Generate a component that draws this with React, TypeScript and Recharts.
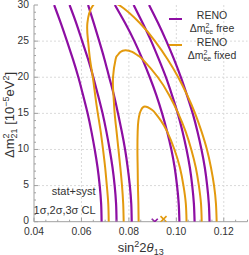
import React from 'react';
import { ScatterChart, Scatter, XAxis, YAxis, CartesianGrid, Legend } from 'recharts';

const PURPLE = '#8d0ea3';
const ORANGE = '#e39a0e';
const FRAME = '#a0a0a0';
const INK = '#333';

const xTicks = [0.04, 0.06, 0.08, 0.1, 0.12];
const xMinorTicks = [0.045, 0.05, 0.055, 0.065, 0.07, 0.075, 0.085, 0.09, 0.095, 0.105, 0.11, 0.115, 0.125, 0.13];
const yTicks = [0, 5, 10, 15, 20, 25, 30];
const yMinorTicks = [1, 2, 3, 4, 6, 7, 8, 9, 11, 12, 13, 14, 16, 17, 18, 19, 21, 22, 23, 24, 26, 27, 28, 29];
const xGrid = [0.06, 0.08, 0.1, 0.12];
const yGrid = [5, 10, 15, 20, 25];

const dm21 = [0, 2.5, 5, 7.5, 10, 12.5, 15, 17.5, 20, 22.5, 25, 27.5, 30];

// RENO, Δm²ee free : sin²2θ13 of each contour branch at dm21
const free1Left = [0.0812, 0.081, 0.0804, 0.0795, 0.0784, 0.077, 0.0754, 0.0737, 0.0717, 0.0697, 0.0675, 0.0652, 0.0628];
const free1Right = [0.1013, 0.101, 0.1003, 0.0993, 0.0979, 0.0961, 0.094, 0.0916, 0.0888, 0.0857, 0.0823, 0.0784, 0.0741];
const free2Left = [0.0748, 0.0746, 0.074, 0.0731, 0.0719, 0.0705, 0.0689, 0.067, 0.065, 0.0628, 0.0603, 0.0578, 0.055];
const free2Right = [0.1077, 0.1074, 0.1067, 0.1057, 0.1043, 0.1026, 0.1006, 0.0982, 0.0956, 0.0926, 0.0894, 0.0858, 0.082];
const free3Left = [0.0685, 0.0683, 0.0677, 0.0668, 0.0656, 0.0642, 0.0626, 0.0607, 0.0587, 0.0564, 0.0539, 0.0513, 0.0485];
const free3Right = [0.114, 0.1137, 0.113, 0.112, 0.1106, 0.1089, 0.1069, 0.1045, 0.1019, 0.099, 0.0958, 0.0923, 0.0885];

// RENO, Δm²ee fixed : 3σ branches at dm21, closing just above the frame
const fixed3Left = [0.0715, 0.0713, 0.0707, 0.07, 0.0691, 0.0681, 0.0669, 0.0658, 0.0648, 0.0636, 0.0628, 0.0625, 0.065];
const fixed3Right = [0.117, 0.1167, 0.1159, 0.1146, 0.1129, 0.1106, 0.1079, 0.1046, 0.1008, 0.0963, 0.091, 0.0846, 0.0758];
const fixed3CapDm = [30.6];
const fixed3CapSin = [0.0697];

// 2σ and 1σ are closed, traced left branch up and right branch down
const fixed2Dm = [0, 2.5, 5, 7.5, 10, 12.5, 15, 17.5, 20, 22.5, 23, 23.5, 23.74, 23.5, 23, 22.5, 20, 17.5, 15, 12.5, 10, 7.5, 5, 2.5, 0];
const fixed2Sin = [0.0778, 0.0776, 0.0771, 0.0764, 0.0756, 0.0748, 0.074, 0.0735, 0.0733, 0.0744, 0.0751, 0.0764, 0.0786, 0.0814, 0.0839, 0.0857, 0.0922, 0.097, 0.1008, 0.1039, 0.1063, 0.1082, 0.1095, 0.1104, 0.1107];
const fixed1Dm = [0, 2.5, 5, 7.5, 10, 12.5, 14, 15, 15.5, 15.95, 15.5, 15, 14, 12.5, 10, 7.5, 5, 2.5, 0];
const fixed1Sin = [0.0841, 0.084, 0.0838, 0.0837, 0.0836, 0.0837, 0.084, 0.0846, 0.0852, 0.0867, 0.0897, 0.0912, 0.0935, 0.0961, 0.0992, 0.1015, 0.103, 0.104, 0.1043];

// best fit points
const bestFreeSin = [0.0909];
const bestFreeDm = [0];
const bestFixedSin = [0.0946];
const bestFixedDm = [0.35];

const legendLabels = ['free', 'fixed'];
const legendColors = [PURPLE, ORANGE];

const pts = (xs: number[], ys: number[]) => xs.map((x, i) => ({ x, y: ys[i] }));
const rev = (a: number[]) => [...a].reverse();

const freeBranches = [free3Left, free3Right, free2Left, free2Right, free1Left, free1Right];
const fixedContours = [
  pts([...fixed3Left, ...fixed3CapSin, ...rev(fixed3Right)], [...dm21, ...fixed3CapDm, ...rev(dm21)]),
  pts(fixed2Sin, fixed2Dm),
  pts(fixed1Sin, fixed1Dm),
];

const isMajor = (v: number, majors: number[]) => majors.some((t) => Math.abs(t - v) < 1e-9);
const noDot = () => <g />;

const BottomTick = (p: any) => {
  const major = isMajor(p.payload.value, xTicks);
  return (
    <g>
      <line x1={p.x} x2={p.x} y1={p.y} y2={p.y - (major ? 4 : 2)} stroke={FRAME} />
      {major && (
        <text x={p.x} y={p.y + 13} textAnchor="middle" fontSize={10.3} fill={INK}>
          {p.payload.value.toFixed(2)}
        </text>
      )}
    </g>
  );
};

const TopTick = (p: any) => {
  const major = isMajor(p.payload.value, xTicks);
  return <line x1={p.x} x2={p.x} y1={p.y} y2={p.y + (major ? 4 : 2)} stroke={FRAME} />;
};

const LeftTick = (p: any) => {
  const major = isMajor(p.payload.value, yTicks);
  return (
    <g>
      <line x1={p.x} x2={p.x + (major ? 4 : 2)} y1={p.y} y2={p.y} stroke={FRAME} />
      {major && (
        <text x={p.x - 5} y={p.y + 2.6} textAnchor="end" fontSize={10.3} fill={INK}>
          {p.payload.value}
        </text>
      )}
    </g>
  );
};

const RightTick = (p: any) => {
  const major = isMajor(p.payload.value, yTicks);
  return <line x1={p.x} x2={p.x - (major ? 4 : 2)} y1={p.y} y2={p.y} stroke={FRAME} />;
};

const Cross = (p: any) => {
  const s = 3;
  return (
    <g stroke={p.fill} strokeWidth={1.6}>
      <line x1={p.cx - s} y1={p.cy - s} x2={p.cx + s} y2={p.cy + s} />
      <line x1={p.cx - s} y1={p.cy + s} x2={p.cx + s} y2={p.cy - s} />
    </g>
  );
};

const script = { fontSize: 7, position: 'relative' as const };

const LegendBox = () => (
  <div style={{ fontSize: 10.5, color: INK, lineHeight: '13px' }}>
    {legendLabels.map((label, i) => (
      <div key={label} style={{ display: 'flex', height: 26.6 }}>
        <div style={{ width: 13, height: 2.2, background: legendColors[i], marginTop: 8.5, marginRight: 1 }} />
        <div style={{ width: 58, textAlign: 'center', whiteSpace: 'nowrap' }}>
          <div>RENO</div>
          <div>
            Δm<span style={{ ...script, top: -4 }}>2</span>
            <span style={{ ...script, top: 2, marginLeft: -4 }}>ee</span> {label}
          </div>
        </div>
      </div>
    ))}
  </div>
);

export default function App() {
  return (
    <div style={{ position: 'absolute', left: 0, top: 0, width: 249, height: 255, fontFamily: '"Liberation Sans", Arial, sans-serif' }}>
      <ScatterChart width={249} height={255} margin={{ top: 5, right: 1.5, bottom: 5.3, left: 4 }}>
        <CartesianGrid xAxisId="b" yAxisId="l" verticalValues={xGrid} horizontalValues={yGrid} stroke="#dadada" strokeDasharray="2 2" />
        <XAxis xAxisId="b" type="number" dataKey="x" domain={[0.04, 0.13]} allowDataOverflow ticks={[...xTicks, ...xMinorTicks]} interval={0}
          height={28} tickSize={0} tickMargin={0} tickLine={false} axisLine={{ stroke: FRAME }} tick={(p: any) => <BottomTick {...p} />} />
        <XAxis xAxisId="t" orientation="top" type="number" dataKey="x" domain={[0.04, 0.13]} allowDataOverflow ticks={[...xTicks, ...xMinorTicks]} interval={0}
          height={0} tickSize={0} tickMargin={0} tickLine={false} axisLine={{ stroke: FRAME }} tick={(p: any) => <TopTick {...p} />} />
        <YAxis yAxisId="l" type="number" dataKey="y" domain={[0, 30]} allowDataOverflow ticks={[...yTicks, ...yMinorTicks]} interval={0}
          width={30} tickSize={0} tickMargin={0} tickLine={false} axisLine={{ stroke: FRAME }} tick={(p: any) => <LeftTick {...p} />} />
        <YAxis yAxisId="r" orientation="right" type="number" dataKey="y" domain={[0, 30]} allowDataOverflow ticks={[...yTicks, ...yMinorTicks]} interval={0}
          width={0} tickSize={0} tickMargin={0} tickLine={false} axisLine={{ stroke: FRAME }} tick={(p: any) => <RightTick {...p} />} />

        {freeBranches.map((xs, i) => (
          <Scatter key={'free' + i} xAxisId="b" yAxisId="l" data={pts(xs, dm21)} fill={PURPLE} line={{ stroke: PURPLE, strokeWidth: 2.2 }}
            lineJointType="natural" shape={noDot} legendType="none" isAnimationActive={false} />
        ))}
        {fixedContours.map((d, i) => (
          <Scatter key={'fixed' + i} xAxisId="b" yAxisId="l" data={d} fill={ORANGE} line={{ stroke: ORANGE, strokeWidth: 2 }}
            lineJointType="natural" shape={noDot} legendType="none" isAnimationActive={false} />
        ))}
        <Scatter xAxisId="b" yAxisId="l" data={pts(bestFreeSin, bestFreeDm)} fill={PURPLE} shape={Cross} legendType="none" isAnimationActive={false} />
        <Scatter xAxisId="b" yAxisId="l" data={pts(bestFixedSin, bestFixedDm)} fill={ORANGE} shape={Cross} legendType="none" isAnimationActive={false} />

        <Legend content={() => <LegendBox />} layout="vertical" align="center" verticalAlign="middle" wrapperStyle={{ left: 169, top: 9, width: 80 }} />

        <text x={95.5} y={195} textAnchor="end" fontSize={11} fill={INK}>stat+syst</text>
        <text x={95.5} y={213.5} textAnchor="end" fontSize={11} fill={INK}>1σ,2σ,3σ CL</text>

        <text transform="rotate(-90)" x={-115} y={14} textAnchor="middle" fontSize={13} fill={INK}>
          Δm<tspan fontSize={9} dy={-5}>2</tspan>
          <tspan fontSize={9} dx={-5} dy={8}>21</tspan>
          <tspan dy={-3}> [10</tspan>
          <tspan fontSize={9} dy={-5}>−5</tspan>
          <tspan dy={5}>eV</tspan>
          <tspan fontSize={9} dy={-5}>2</tspan>
          <tspan dy={5}>]</tspan>
        </text>
        <text x={140.7} y={251.5} textAnchor="middle" fontSize={13} fill={INK}>
          sin<tspan fontSize={9} dy={-5}>2</tspan>
          <tspan dy={5}>2</tspan>
          <tspan fontStyle="italic">θ</tspan>
          <tspan fontSize={9} dy={3}>13</tspan>
        </text>
      </ScatterChart>
    </div>
  );
}
